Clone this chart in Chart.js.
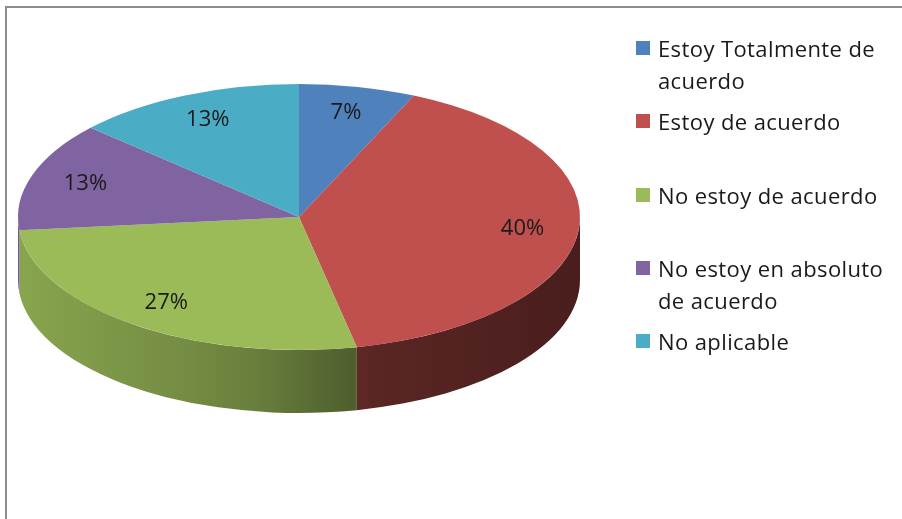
<!DOCTYPE html>
<html>
<head>
<meta charset="utf-8">
<script src="https://cdn.jsdelivr.net/npm/chart.js@4.4.0/dist/chart.umd.min.js"></script>
<style>
html,body{margin:0;padding:0;background:#fff;}
#wrap{position:relative;width:902px;height:519px;overflow:hidden;background:#fff;}
#frame{position:absolute;left:5px;top:6px;width:940px;height:560px;border-top:2px solid #8c8c8c;border-left:2px solid #8c8c8c;box-sizing:border-box;}
#c{position:absolute;left:0;top:0;}
.item{position:absolute;left:636px;font-family:"Open Sans",sans-serif;font-size:22px;letter-spacing:0.4px;line-height:32px;color:#1a1a1a;white-space:nowrap;}
.sw{position:absolute;left:0;width:14px;height:14px;}
.tx{position:absolute;left:22px;top:0;}
</style>
</head>
<body>
<div id="wrap">
  <div id="frame"></div>
  <canvas id="c" width="902" height="519"></canvas>
  <div id="legend"></div>
</div>
<script>
// ---- data ----
const categories = ["Estoy Totalmente de acuerdo", "Estoy de acuerdo", "No estoy de acuerdo", "No estoy en absoluto de acuerdo", "No aplicable"];
const legendLines = [["Estoy Totalmente de", "acuerdo"], ["Estoy de acuerdo"], ["No estoy de acuerdo"], ["No estoy en absoluto", "de acuerdo"], ["No aplicable"]];
const values = [6.7, 40, 26.7, 13.3, 13.3];
const colors = ["#4F81BD", "#C0504D", "#9BBB59", "#8064A2", "#4BACC6"];

// ---- 3D geometry / style ----
const RX = 281, RY = 133, DEPTH = 63, LABEL_FRAC = 0.8;
const SX = RX / RY;
const shadeStops = [[0, 0.88], [0.3, 0.75], [0.42, 0.68], [0.6, 0.5], [0.63, 0.47], [1, 0.38]];

function shade(hex, f) {
  const n = parseInt(hex.slice(1), 16);
  const r = Math.round(((n >> 16) & 255) * f), g = Math.round(((n >> 8) & 255) * f), b = Math.round((n & 255) * f);
  return `rgb(${r},${g},${b})`;
}

const pie3d = {
  id: 'pie3d',
  beforeDatasetsDraw(chart) {
    const ctx = chart.ctx;
    const meta = chart.getDatasetMeta(0);
    let cx = 0, cy = 0;
    meta.data.forEach((arc, i) => {
      const p = arc.getProps(['x', 'y', 'startAngle', 'endAngle', 'outerRadius'], true);
      cx = p.x; cy = p.y;
      const a = Math.max(p.startAngle, 0), b = Math.min(p.endAngle, Math.PI);
      if (b <= a) return;
      const rx = p.outerRadius * SX, ry = p.outerRadius;
      ctx.save();
      ctx.beginPath();
      ctx.ellipse(p.x, p.y, rx, ry, 0, a, b, false);
      ctx.ellipse(p.x, p.y + DEPTH, rx, ry, 0, b, a, true);
      ctx.closePath();
      const g = ctx.createLinearGradient(p.x - rx, 0, p.x + rx, 0);
      shadeStops.forEach(([u, f]) => g.addColorStop(u, shade(colors[i], f)));
      ctx.fillStyle = g;
      ctx.fill();
      ctx.restore();
    });
    ctx.save();
    ctx.translate(cx, cy);
    ctx.scale(SX, 1);
    ctx.translate(-cx, -cy);
  },
  afterDatasetsDraw(chart) {
    const ctx = chart.ctx;
    ctx.restore();
    const meta = chart.getDatasetMeta(0);
    const data = chart.data.datasets[0].data;
    ctx.save();
    ctx.font = '22px "Open Sans", sans-serif';
    ctx.fillStyle = '#1a1a1a';
    ctx.textAlign = 'center';
    ctx.textBaseline = 'middle';
    meta.data.forEach((arc, i) => {
      const p = arc.getProps(['x', 'y', 'startAngle', 'endAngle', 'outerRadius'], true);
      const mid = (p.startAngle + p.endAngle) / 2;
      const x = p.x + LABEL_FRAC * p.outerRadius * SX * Math.cos(mid);
      const y = p.y + LABEL_FRAC * p.outerRadius * Math.sin(mid);
      ctx.fillText(Math.round(data[i]) + '%', x, y);
    });
    ctx.restore();
  }
};

new Chart(document.getElementById('c'), {
  type: 'pie',
  data: {
    labels: categories,
    datasets: [{ data: values, backgroundColor: colors, borderWidth: 0 }]
  },
  options: {
    responsive: false,
    animation: false,
    events: [],
    layout: { padding: { left: 166, right: 470, top: 84, bottom: 169 } },
    plugins: { legend: { display: false }, tooltip: { enabled: false } }
  },
  plugins: [pie3d]
});

// ---- legend ----
const legend = document.getElementById('legend');
legendLines.forEach((lines, i) => {
  const firstCenter = 48 + i * 73.3;
  const item = document.createElement('div');
  item.className = 'item';
  item.style.top = (firstCenter - 16) + 'px';
  const sw = document.createElement('div');
  sw.className = 'sw';
  sw.style.background = colors[i];
  sw.style.top = '9px';
  const tx = document.createElement('div');
  tx.className = 'tx';
  tx.innerHTML = lines.join('<br>');
  item.appendChild(sw);
  item.appendChild(tx);
  legend.appendChild(item);
});
</script>
</body>
</html>
